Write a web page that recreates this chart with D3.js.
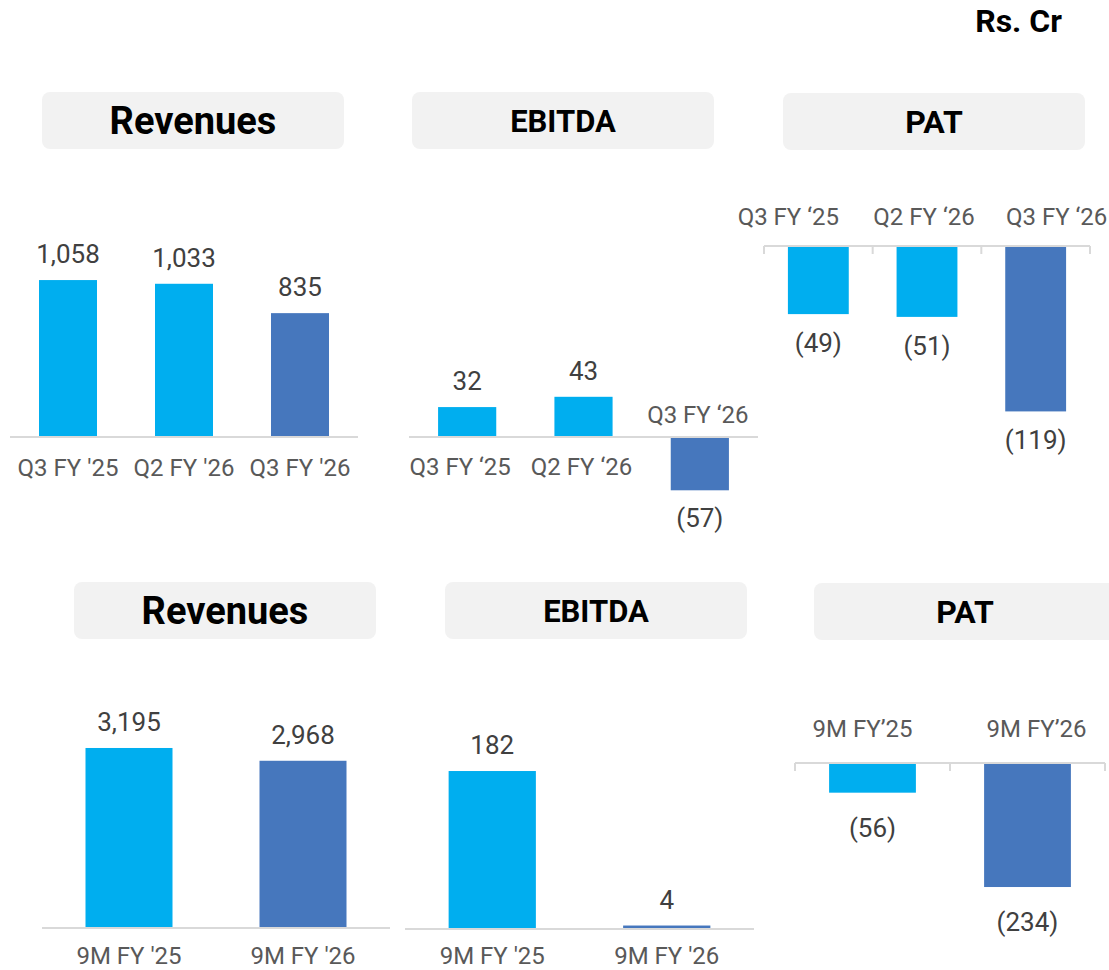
<!DOCTYPE html>
<html>
<head>
<meta charset="utf-8">
<script src="https://cdn.jsdelivr.net/npm/d3@7"></script>
<style>
  body { margin: 0; background: #fff; }
  svg { display: block; font-family: Roboto, "Noto Sans", sans-serif; }
</style>
</head>
<body>
<div id="chart"></div>
<script>
// Quarterly figures
const quarterCats = ["Q3 FY '25", "Q2 FY '26", "Q3 FY '26"];
const quarterCatsCurly = ["Q3 FY \u201825", "Q2 FY \u201826", "Q3 FY \u201826"];
const revenueQ = [1058, 1033, 835];
const ebitdaQ = [32, 43, -57];
const patQ = [-49, -51, -119];

// Nine-month figures
const nineMonthCats = ["9M FY '25", "9M FY '26"];
const nineMonthCatsPat = ["9M FY\u201925", "9M FY\u201926"];
const revenue9M = [3195, 2968];
const ebitda9M = [182, 4];
const pat9M = [-56, -234];

const width = 1109, height = 970;
const lightBlue = '#00aeef', darkBlue = '#4677bd';
const axisColor = '#d9d9d9';

const svg = d3.select('#chart')
    .append('svg')
    .attr('width', width)
    .attr('height', height)
    .attr('viewBox', [0, 0, width, height]);

svg.append('text')
    .attr('x', 1062)
    .attr('y', 32)
    .attr('text-anchor', 'end')
    .attr('font-size', 32)
    .attr('font-weight', 700)
    .attr('fill', '#000')
    .text('Rs. Cr');

// Layout of each panel
const panels = [
    { title: 'Revenues', titleSize: 38, box: [42, 92], cats: quarterCats, values: revenueQ,
      x: [10, 358], pad: 0.5, domain: [0, 1200], range: [437, 259], below: 39 },
    { title: 'EBITDA', titleSize: 31, box: [412, 92], cats: quarterCatsCurly, values: ebitdaQ,
      x: [409, 758], pad: 0.5, domain: [-60, 50], range: [493.1, 390.25], above: 14, below: 38,
      negGap: 37, shift: [-7, -2, -2] },
    { title: 'PAT', titleSize: 32, box: [783, 93], cats: quarterCatsCurly, values: patQ,
      x: [764, 1090], pad: 0.44, domain: [-120, 0], range: [412.8, 246], above: 21,
      negGap: 38, ticks: true, shift: [-30, -3, 21] },
    { title: 'Revenues', titleSize: 38, box: [74, 582], cats: nineMonthCats, values: revenue9M,
      x: [42, 390], pad: 0.5, domain: [0, 3500], range: [928, 730.8], below: 36 },
    { title: 'EBITDA', titleSize: 31, box: [445, 582], cats: nineMonthCats, values: ebitda9M,
      x: [405, 754], pad: 0.5, domain: [0, 200], range: [929, 755.4], below: 35 },
    { title: 'PAT', titleSize: 32, box: [814, 583], cats: nineMonthCatsPat, values: pat9M,
      x: [795, 1105], pad: 0.44, domain: [-250, 0], range: [895.5, 763], above: 26,
      negGap: 44, ticks: true, shift: [-10, 9] }
];

const fmt = d3.format(',');
const labelText = v => v < 0 ? `(${fmt(-v)})` : fmt(v);

panels.forEach(p => {
    const g = svg.append('g');

    // Title box
    g.append('rect')
        .attr('x', p.box[0])
        .attr('y', p.box[1])
        .attr('width', 302)
        .attr('height', 57)
        .attr('rx', 8)
        .attr('fill', '#f2f2f2');
    g.append('text')
        .attr('x', p.box[0] + 151)
        .attr('y', p.box[1] + 28.5)
        .attr('dy', '0.36em')
        .attr('text-anchor', 'middle')
        .attr('font-size', p.titleSize)
        .attr('font-weight', 700)
        .attr('fill', '#000')
        .text(p.title);

    const x = d3.scaleBand()
        .domain(p.cats)
        .range(p.x)
        .paddingInner(p.pad)
        .paddingOuter(p.pad / 2);
    const y = d3.scaleLinear().domain(p.domain).range(p.range);
    const base = y(0);
    const data = p.cats.map((c, i) => ({ cat: c, value: p.values[i], i }));

    // Bars
    g.selectAll('rect.bar')
        .data(data)
        .join('rect')
        .attr('class', 'bar')
        .attr('x', d => x(d.cat))
        .attr('width', x.bandwidth())
        .attr('y', d => Math.min(y(d.value), base))
        .attr('height', d => Math.abs(y(d.value) - base))
        .attr('fill', d => d.i === data.length - 1 ? darkBlue : lightBlue);

    // Axis line
    g.append('line')
        .attr('x1', p.x[0]).attr('x2', p.x[1])
        .attr('y1', base).attr('y2', base)
        .attr('stroke', axisColor)
        .attr('stroke-width', 2);

    if (p.ticks) {
        const half = x.step() * p.pad / 2;
        const bounds = [p.x[0]].concat(p.cats.map(c => x(c) + x.bandwidth() + half));
        g.selectAll('line.tick')
            .data(bounds)
            .join('line')
            .attr('class', 'tick')
            .attr('x1', d => d).attr('x2', d => d)
            .attr('y1', base).attr('y2', base + 8)
            .attr('stroke', axisColor)
            .attr('stroke-width', 2);
    }

    // Value labels
    g.selectAll('text.val')
        .data(data)
        .join('text')
        .attr('class', 'val')
        .attr('x', d => x(d.cat) + x.bandwidth() / 2)
        .attr('y', d => d.value >= 0 ? y(d.value) - 17 : y(d.value) + (p.negGap || 38))
        .attr('text-anchor', 'middle')
        .attr('font-size', 26)
        .attr('fill', '#404040')
        .text(d => labelText(d.value));

    // Category labels
    g.selectAll('text.cat')
        .data(data)
        .join('text')
        .attr('class', 'cat')
        .attr('x', d => x(d.cat) + x.bandwidth() / 2 + (p.shift ? p.shift[d.i] : 0))
        .attr('y', d => d.value >= 0 ? base + (p.below || 38) : base - p.above)
        .attr('text-anchor', 'middle')
        .attr('font-size', 24)
        .attr('fill', '#595959')
        .text(d => d.cat);
});
</script>
</body>
</html>
